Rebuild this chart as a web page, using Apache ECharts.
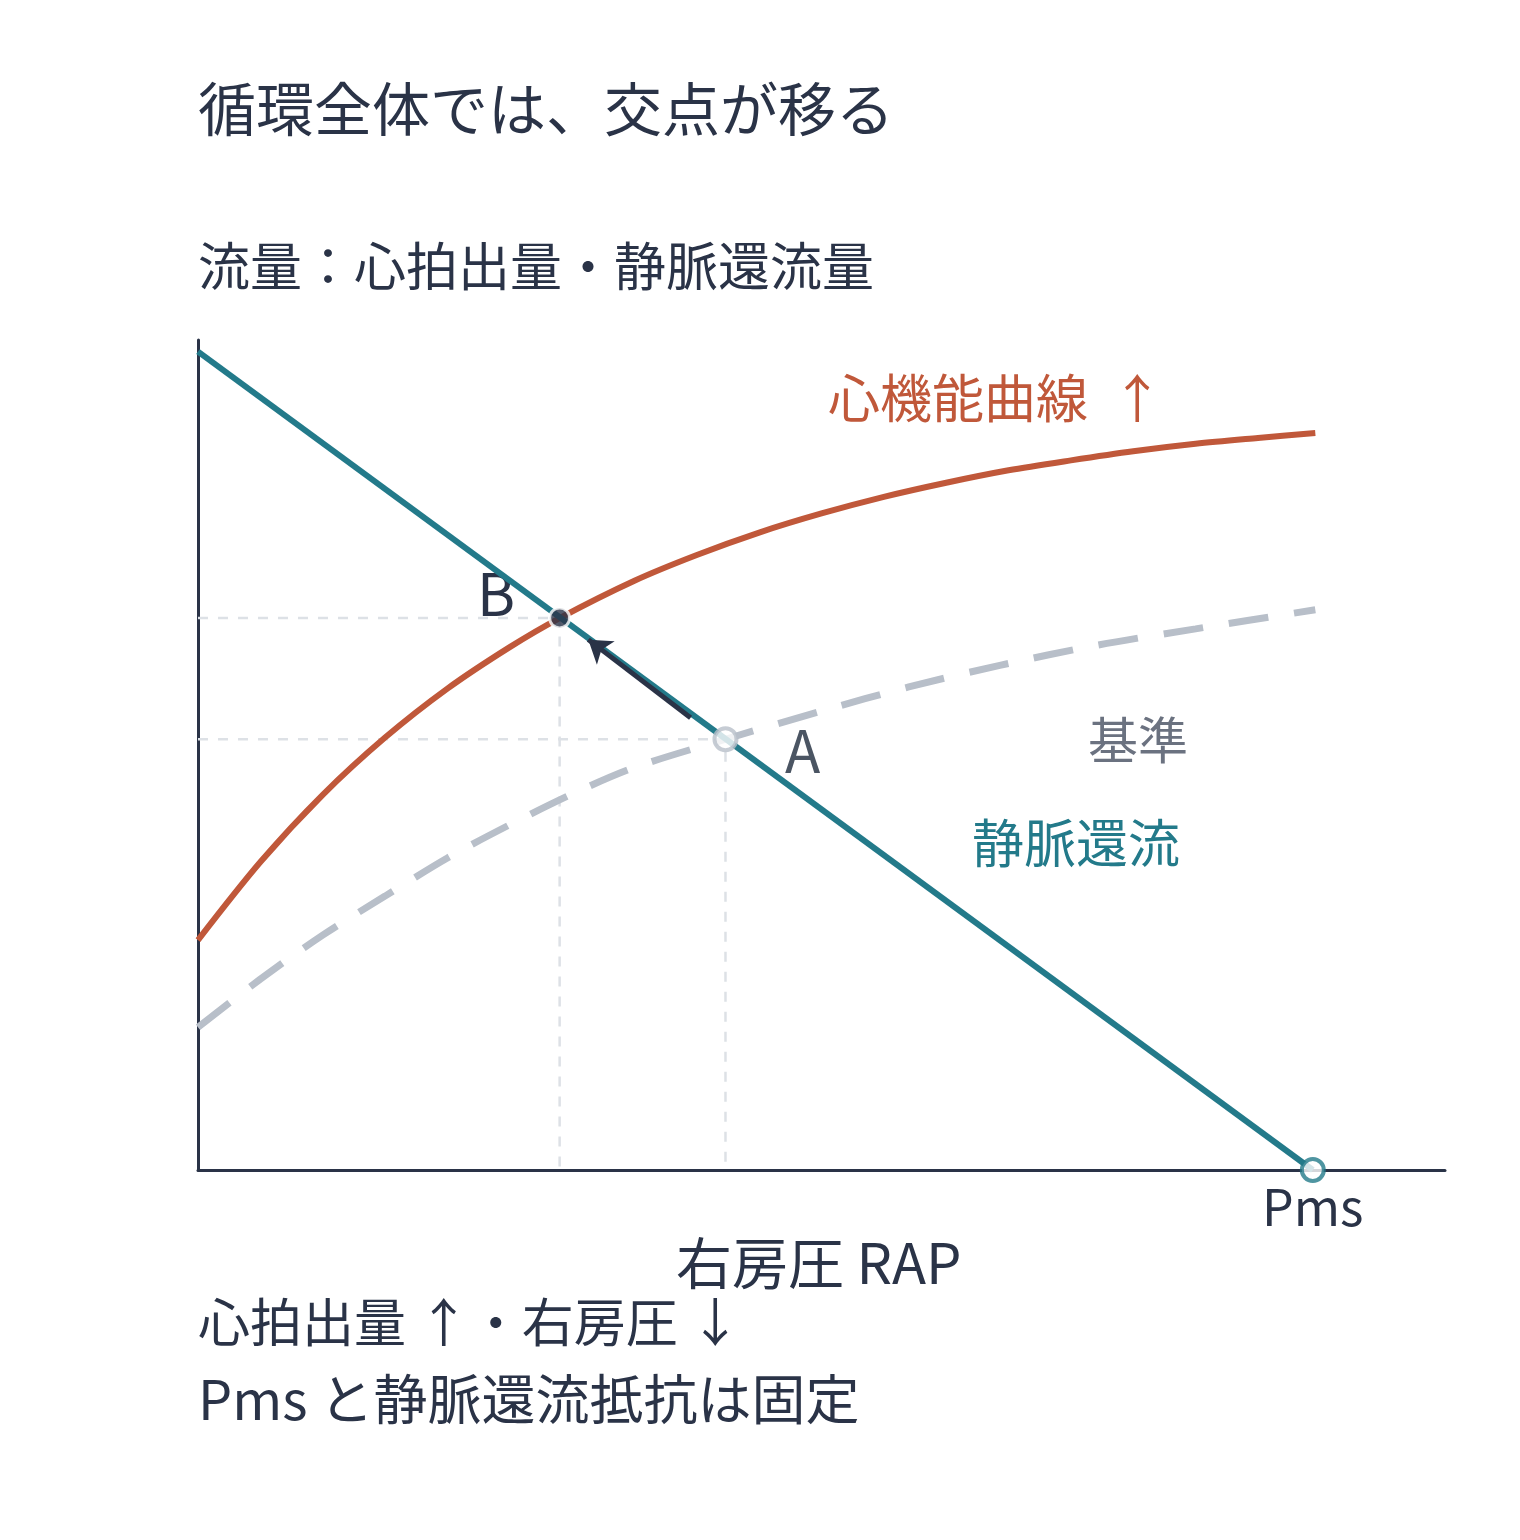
<!DOCTYPE html>
<html><head><meta charset="utf-8">
<script src="https://cdn.jsdelivr.net/npm/echarts@6/dist/echarts.min.js"></script>
<style>html,body{margin:0;background:#fff}#c{width:1520px;height:1540px}</style>
</head><body><div id="c"></div>
<script>
const venous = [[0, 98.6], [89.4, 0]];
const cardiacUp = [[0, 27.7], [5, 37.1], [10, 45.2], [15, 52.1], [20, 58.0], [25, 63.0], [29, 66.5], [35, 71.0], [40, 74.1], [45, 76.8], [50, 79.1], [55, 81.1], [60, 82.8], [65, 84.3], [70, 85.5], [75, 86.6], [80, 87.5], [85, 88.2], [89.6, 88.8]];
const baseline = [[0, 17.2], [5, 23.0], [10, 28.3], [15, 33.0], [20, 37.6], [25, 41.6], [30, 45.3], [35, 48.5], [42.3, 51.9], [50, 55.3], [57, 58.2], [64.3, 60.8], [72, 63.2], [80, 65.2], [89.6, 67.5]];
const pointA = [42.3, 51.9];
const pointB = [29.0, 66.5];
const pms = [89.4, 0];
const arrow = [[39.5, 54.5], [31.3, 63.9]];
const F = "'Noto Sans CJK JP','Noto Sans',sans-serif";
const dark = '#2a3347';
const chart = echarts.init(document.getElementById('c'));
const refStyle = {color: '#dde1e6', width: 2.5, type: [10, 10]};
chart.setOption({
  animation: false,
  grid: {left: 198, right: 75, top: 340, bottom: 370},
  xAxis: {type: 'value', min: 0, max: 100, axisLine: {lineStyle: {color: dark, width: 3}},
    axisTick: {show: false}, axisLabel: {show: false}, splitLine: {show: false}},
  yAxis: {type: 'value', min: 0, max: 100, axisLine: {show: true, lineStyle: {color: dark, width: 3}},
    axisTick: {show: false}, axisLabel: {show: false}, splitLine: {show: false}},
  series: [
    {type: 'line', data: [[0, pointA[1]], pointA, [pointA[0], 0]], symbol: 'none', lineStyle: refStyle, z: 1},
    {type: 'line', data: [[0, pointB[1]], pointB, [pointB[0], 0]], symbol: 'none', lineStyle: refStyle, z: 1},
    {type: 'line', data: baseline, smooth: 0.3, symbol: 'none', lineStyle: {color: '#b8bfc9', width: 7, type: [40, 26]}, z: 2},
    {type: 'line', data: cardiacUp, smooth: 0.3, symbol: 'none', lineStyle: {color: '#c0583a', width: 6}, z: 3},
    {type: 'line', data: venous, symbol: 'none', lineStyle: {color: '#237a8a', width: 6}, z: 4,
      markLine: {silent: true, symbol: ['none', 'arrow'], symbolSize: 22, label: {show: false},
        lineStyle: {color: dark, width: 5, type: 'solid'},
        data: [[{coord: arrow[0]}, {coord: arrow[1]}]]}},
    {type: 'scatter', data: [pointA], symbolSize: 22, itemStyle: {color: '#fff', borderColor: '#b8bfc9', borderWidth: 4}, z: 5},
    {type: 'scatter', data: [pointB], symbolSize: 20, itemStyle: {color: dark, borderColor: '#fff', borderWidth: 3}, z: 5},
    {type: 'scatter', data: [pms], symbolSize: 22, itemStyle: {color: '#fff', borderColor: '#237a8a', borderWidth: 4}, z: 5}
  ],
  graphic: [
    {type: 'text', left: 198, top: 80, style: {text: '循環全体では、交点が移る', font: '58px ' + F, fill: dark}},
    {type: 'text', left: 198, top: 240, style: {text: '流量：心拍出量・静脈還流量', font: '52px ' + F, fill: dark}},
    {type: 'text', left: 828, top: 372, style: {text: '心機能曲線  ↑', font: '52px ' + F, fill: '#c0583a'}},
    {type: 'text', left: 1088, top: 715, style: {text: '基準', font: '50px ' + F, fill: '#6b7280'}},
    {type: 'text', left: 972, top: 817, style: {text: '静脈還流', font: '52px ' + F, fill: '#237a8a'}},
    {type: 'text', left: 477, top: 565, style: {text: 'B', font: '58px ' + F, fill: dark}},
    {type: 'text', left: 785, top: 722, style: {text: 'A', font: '58px ' + F, fill: '#4b5563'}},
    {type: 'text', left: 1262, top: 1182, style: {text: 'Pms', font: '50px ' + F, fill: dark}},
    {type: 'text', left: 676, top: 1235, style: {text: '右房圧 RAP', font: '56px ' + F, fill: dark}},
    {type: 'text', left: 198, top: 1296, style: {text: '心拍出量 ↑・右房圧 ↓', font: '52px ' + F, fill: dark}},
    {type: 'text', left: 198, top: 1372, style: {text: 'Pms と静脈還流抵抗は固定', font: '54px ' + F, fill: dark}}
  ]
});
</script></body></html>
